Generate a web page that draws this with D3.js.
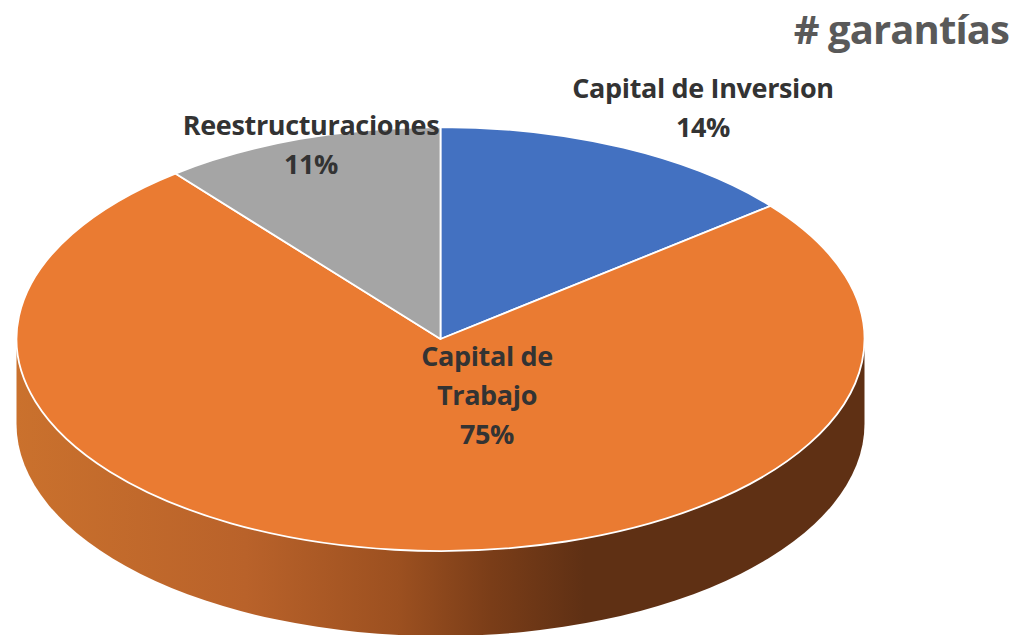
<!DOCTYPE html>
<html>
<head>
<meta charset="utf-8">
<script src="https://cdn.jsdelivr.net/npm/d3@7"></script>
<style>
  html, body { margin: 0; padding: 0; background: #fff; overflow: hidden; }
  svg { display: block; }
  text { font-family: "Open Sans", sans-serif; font-weight: 700; }
</style>
</head>
<body>
<div id="chart"></div>
<script>
const categories = ['Capital de Inversion', 'Capital de Trabajo', 'Reestructuraciones'];
const shares = [14.2, 75.05, 10.75];
const sliceColors = ['#4371c1', '#ea7b32', '#a5a5a5'];
const labelLines = [['Capital de Inversion', '14%'], ['Capital de', 'Trabajo', '75%'], ['Reestructuraciones', '11%']];
const wallStops = [[0, '#ca712d'], [0.27, '#b9622a'], [0.45, '#9c5020'], [0.56, '#7a3d18'], [0.67, '#5f3014'], [1, '#5f3014']];

const w = 1014, h = 635;
const cx = 440.5, cy = 339, rx = 424, tilt = 0.5, depth = 85;

const svg = d3.select('#chart').append('svg').attr('width', w).attr('height', h);

// wall shading runs left to right across the pie
const grad = svg.append('defs').append('linearGradient')
  .attr('id', 'wall')
  .attr('gradientUnits', 'userSpaceOnUse')
  .attr('x1', cx - rx).attr('x2', cx + rx).attr('y1', 0).attr('y2', 0);
grad.selectAll('stop').data(wallStops).enter().append('stop')
  .attr('offset', d => d[0])
  .attr('stop-color', d => d[1]);

// wall outline: lower half of the rim, dropped by depth
svg.append('path')
  .attr('d', 'M' + (cx - rx) + ',' + cy + 'V' + (cy + depth) +
    'A' + rx + ',' + (rx * tilt) + ' 0 0 0 ' + (cx + rx) + ',' + (cy + depth) +
    'V' + cy + 'Z')
  .attr('fill', 'url(#wall)');

// top face: a flat pie squashed into an ellipse
const pie = d3.pie().sort(null).value(d => d);
const arc = d3.arc().innerRadius(0).outerRadius(rx);

const topFace = svg.append('g')
  .attr('transform', 'translate(' + cx + ',' + cy + ') scale(1,' + tilt + ')');
topFace.selectAll('path')
  .data(pie(shares))
  .enter()
  .append('path')
  .attr('d', arc)
  .attr('fill', (d, i) => sliceColors[i])
  .attr('stroke', '#fff')
  .attr('stroke-width', 1.8)
  .attr('vector-effect', 'non-scaling-stroke')
  .attr('stroke-linejoin', 'round');

const labelPos = [[703, 98], [487, 366], [311, 135]];
const labels = svg.append('g')
  .selectAll('text')
  .data(categories)
  .enter()
  .append('text')
  .attr('text-anchor', 'middle')
  .attr('font-size', 27)
  .attr('letter-spacing', -0.35)
  .attr('fill', '#333333');
labels.each(function (d, i) {
  d3.select(this).selectAll('tspan')
    .data(labelLines[i])
    .enter()
    .append('tspan')
    .attr('x', labelPos[i][0])
    .attr('y', (t, j) => labelPos[i][1] + j * 39)
    .text(t => t);
});

svg.append('text')
  .attr('x', 1009)
  .attr('y', 44)
  .attr('text-anchor', 'end')
  .attr('font-size', 40)
  .attr('letter-spacing', -0.9)
  .attr('fill', '#595959')
  .text('# garantías');
</script>
</body>
</html>
